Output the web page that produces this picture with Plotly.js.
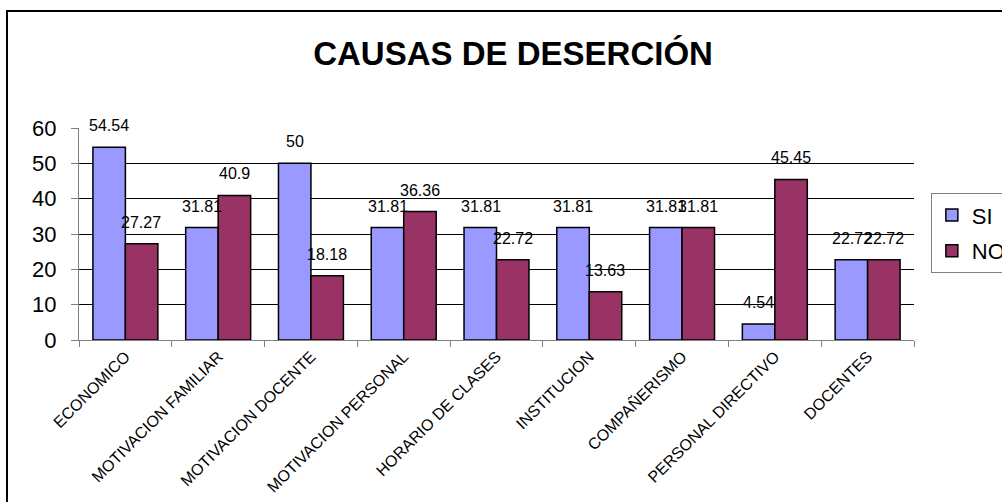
<!DOCTYPE html>
<html>
<head>
<meta charset="utf-8">
<script src="https://cdn.plot.ly/plotly-3.0.1.min.js"></script>
<style>
  html, body { margin:0; padding:0; background:#fff; overflow:hidden; }
  #frame { position:absolute; left:6px; top:10px; width:1020px; height:520px; border:2px solid #000; box-sizing:border-box; }
  #chart { position:absolute; left:0; top:0; width:1002px; height:502px; }
</style>
</head>
<body>
<div id="frame"></div>
<div id="chart"></div>
<script>
const categories = ["ECONOMICO", "MOTIVACION FAMILIAR", "MOTIVACION DOCENTE", "MOTIVACION PERSONAL",
  "HORARIO DE CLASES", "INSTITUCION", "COMPAÑERISMO", "PERSONAL DIRECTIVO", "DOCENTES"];
const siValues = [54.54, 31.81, 50, 31.81, 31.81, 31.81, 31.81, 4.54, 22.72];
const noValues = [27.27, 40.9, 18.18, 36.36, 22.72, 13.63, 31.81, 45.45, 22.72];
const yTicks = [0, 10, 20, 30, 40, 50, 60];

const barLine = {color: "#000", width: 1.5};
const traces = [
  {type: "bar", name: "SI", x: categories, y: siValues, marker: {color: "#9999FF", line: barLine}, legendgroup: "a"},
  {type: "bar", name: "NO", x: categories, y: noValues, marker: {color: "#993366", line: barLine}, legendgroup: "b"}
];

const labelFont = {family: "Liberation Sans, Arial, sans-serif", size: 16, color: "#000"};
const annotations = [];
categories.forEach((c, i) => {
  annotations.push({x: c, y: siValues[i], xref: "x", yref: "y", text: String(siValues[i]), showarrow: false,
    yanchor: "bottom", xshift: -16, yshift: 11, font: labelFont});
  annotations.push({x: c, y: noValues[i], xref: "x", yref: "y", text: String(noValues[i]), showarrow: false,
    yanchor: "bottom", xshift: 16, yshift: 11, font: labelFont});
});

const layout = {
  width: 1002, height: 502,
  paper_bgcolor: "rgba(0,0,0,0)", plot_bgcolor: "#fff",
  margin: {l: 79, r: 88, t: 128, b: 162, autoexpand: false},
  font: {family: "Liberation Sans, Arial, sans-serif", color: "#000"},
  title: {text: "<b>CAUSAS DE DESERCIÓN</b>", font: {size: 33, color: "#000"},
    x: 0.512, xanchor: "center", y: 0.894, yanchor: "middle", xref: "container", yref: "container"},
  barmode: "group", bargap: 0.3, bargroupgap: 0,
  xaxis: {type: "category", tickangle: -45, tickfont: {size: 16}, showline: true, linecolor: "#808080", linewidth: 1,
    ticks: "outside", tickson: "boundaries", ticklen: 6, tickcolor: "#808080", showgrid: false, automargin: false},
  yaxis: {range: [0, 60], tickvals: yTicks, tickfont: {size: 22}, showline: true, linecolor: "#808080", linewidth: 1,
    ticks: "outside", ticklen: 7, tickcolor: "#808080", showgrid: true, gridcolor: "#000", gridwidth: 1,
    zeroline: false, ticklabelstandoff: 10, automargin: false},
  legend: {xref: "container", yref: "container", x: 0.929, xanchor: "left", y: 0.615, yanchor: "top",
    bordercolor: "#808080", borderwidth: 1,
    bgcolor: "#fff", font: {size: 22}, tracegroupgap: 4, itemwidth: 30},
  annotations: annotations,
  showlegend: true
};

Plotly.newPlot("chart", traces, layout, {staticPlot: true});
</script>
</body>
</html>
